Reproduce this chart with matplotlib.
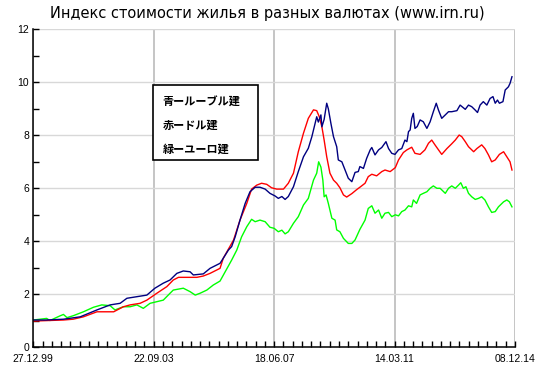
import matplotlib
matplotlib.use("Agg")
import matplotlib.pyplot as plt
import matplotlib.dates as mdates
from matplotlib.patches import Rectangle
from matplotlib.ticker import MultipleLocator, FixedLocator
from datetime import datetime, timedelta
import numpy as np

title = "Индекс стоимости жилья в разных валютах (www.irn.ru)"
tick_labels = ["27.12.99", "22.09.03", "18.06.07", "14.03.11", "08.12.14"]
legend_labels = ["青ールーブル建", "赤ードル建", "緑ーユーロ建"]

blue_t = [1999.99, 2000.38, 2000.92, 2001.44, 2001.96, 2002.37, 2002.68, 2002.89, 2003.20, 2003.51,
          2003.76, 2004.02, 2004.23, 2004.44, 2004.64, 2004.85, 2004.95, 2005.26, 2005.47, 2005.78,
          2005.88, 2006.04, 2006.14, 2006.25, 2006.40, 2006.56, 2006.71, 2006.87, 2007.02, 2007.18,
          2007.33, 2007.49, 2007.59, 2007.70, 2007.80, 2007.90, 2008.06, 2008.21, 2008.37, 2008.52,
          2008.63, 2008.73, 2008.78, 2008.83, 2008.91, 2008.94, 2009.01, 2009.09, 2009.14, 2009.22,
          2009.30, 2009.40, 2009.45, 2009.56, 2009.66, 2009.76, 2009.87, 2009.97, 2010.07, 2010.12,
          2010.23, 2010.33, 2010.44, 2010.49, 2010.59, 2010.70, 2010.80, 2010.93, 2011.01, 2011.11,
          2011.21, 2011.32, 2011.42, 2011.52, 2011.58, 2011.63, 2011.68, 2011.73, 2011.78, 2011.83,
          2011.90, 2011.99, 2012.09, 2012.20, 2012.30, 2012.40, 2012.49, 2012.56, 2012.66, 2012.77,
          2012.87, 2012.97, 2013.13, 2013.23, 2013.39, 2013.49, 2013.59, 2013.70, 2013.77, 2013.85,
          2013.95, 2014.06, 2014.16, 2014.25, 2014.32, 2014.39, 2014.45, 2014.56, 2014.63, 2014.73,
          2014.78, 2014.84]
blue_v = [1.03, 1.03, 1.06, 1.15, 1.41, 1.60, 1.66, 1.85, 1.91, 1.97,
          2.23, 2.42, 2.54, 2.79, 2.88, 2.85, 2.73, 2.77, 2.98, 3.17,
          3.36, 3.67, 3.80, 4.17, 4.80, 5.43, 5.87, 6.04, 6.04, 5.97,
          5.81, 5.71, 5.62, 5.69, 5.58, 5.69, 6.06, 6.63, 7.19, 7.51,
          7.95, 8.45, 8.70, 8.50, 8.77, 8.32, 8.60, 9.21, 9.00, 8.45,
          7.95, 7.57, 7.07, 7.00, 6.69, 6.38, 6.25, 6.60, 6.63, 6.82,
          6.75, 7.13, 7.45, 7.54, 7.26, 7.45, 7.54, 7.76, 7.50, 7.32,
          7.28, 7.45, 7.50, 7.82, 7.76, 8.14, 8.20, 8.64, 8.83, 8.26,
          8.33, 8.58, 8.51, 8.26, 8.51, 8.89, 9.21, 8.95, 8.64, 8.77,
          8.89, 8.89, 8.93, 9.14, 8.98, 9.14, 9.08, 8.95, 8.86, 9.14,
          9.27, 9.14, 9.39, 9.46, 9.21, 9.33, 9.21, 9.27, 9.71, 9.83,
          9.96, 10.21]

red_t = [1999.99, 2000.92, 2001.22, 2001.54, 2001.96, 2002.48, 2002.78, 2002.99, 2003.30, 2003.51,
         2003.82, 2004.13, 2004.33, 2004.49, 2005.06, 2005.26, 2005.47, 2005.78, 2005.88, 2006.20,
         2006.40, 2006.61, 2006.76, 2006.92, 2007.07, 2007.23, 2007.38, 2007.54, 2007.75, 2007.90,
         2008.06, 2008.21, 2008.37, 2008.52, 2008.68, 2008.78, 2008.86, 2008.94, 2009.01, 2009.09,
         2009.19, 2009.30, 2009.40, 2009.50, 2009.61, 2009.71, 2009.87, 2010.02, 2010.12, 2010.28,
         2010.38, 2010.49, 2010.64, 2010.80, 2010.90, 2011.06, 2011.22, 2011.32, 2011.47, 2011.58,
         2011.73, 2011.83, 2011.99, 2012.14, 2012.25, 2012.35, 2012.45, 2012.56, 2012.66, 2012.82,
         2012.97, 2013.08, 2013.20, 2013.28, 2013.39, 2013.49, 2013.65, 2013.75, 2013.90, 2014.00,
         2014.11, 2014.21, 2014.32, 2014.45, 2014.58, 2014.68, 2014.78, 2014.84]
red_v = [0.99, 1.03, 1.06, 1.15, 1.34, 1.34, 1.53, 1.60, 1.66, 1.78,
         2.04, 2.29, 2.54, 2.64, 2.64, 2.69, 2.79, 2.98, 3.36, 4.05,
         4.80, 5.43, 5.97, 6.12, 6.19, 6.15, 6.02, 5.97, 5.97, 6.19,
         6.57, 7.38, 8.08, 8.64, 8.96, 8.93, 8.70, 8.32, 7.82, 7.19,
         6.57, 6.31, 6.19, 6.02, 5.75, 5.67, 5.80, 5.95, 6.04, 6.19,
         6.44, 6.53, 6.47, 6.63, 6.69, 6.63, 6.78, 7.07, 7.35, 7.45,
         7.55, 7.32, 7.28, 7.45, 7.70, 7.82, 7.64, 7.45, 7.28, 7.50,
         7.68, 7.82, 8.01, 7.95, 7.76, 7.57, 7.38, 7.50, 7.64, 7.50,
         7.26, 7.00, 7.07, 7.28, 7.38, 7.19, 7.00, 6.69]

green_t = [1999.99, 2000.40, 2000.50, 2000.82, 2000.92, 2001.03, 2001.22, 2001.54, 2001.85, 2002.11,
           2002.37, 2002.52, 2002.78, 2002.99, 2003.20, 2003.40, 2003.61, 2004.02, 2004.23, 2004.33,
           2004.64, 2004.85, 2005.01, 2005.16, 2005.37, 2005.57, 2005.78, 2006.14, 2006.30, 2006.45,
           2006.61, 2006.76, 2006.87, 2007.02, 2007.18, 2007.33, 2007.46, 2007.59, 2007.70, 2007.80,
           2007.90, 2008.06, 2008.21, 2008.37, 2008.52, 2008.68, 2008.78, 2008.84, 2008.91, 2008.97,
           2009.01, 2009.07, 2009.14, 2009.25, 2009.35, 2009.40, 2009.50, 2009.61, 2009.76, 2009.87,
           2009.97, 2010.12, 2010.28, 2010.38, 2010.49, 2010.59, 2010.70, 2010.80, 2010.90, 2011.01,
           2011.11, 2011.22, 2011.32, 2011.42, 2011.52, 2011.63, 2011.73, 2011.78, 2011.88, 2011.99,
           2012.09, 2012.20, 2012.30, 2012.40, 2012.51, 2012.61, 2012.77, 2012.87, 2012.97, 2013.08,
           2013.18, 2013.25, 2013.33, 2013.41, 2013.49, 2013.59, 2013.70, 2013.80, 2013.90, 2014.00,
           2014.11, 2014.21, 2014.32, 2014.42, 2014.58, 2014.68, 2014.76, 2014.84]
green_v = [1.03, 1.09, 1.01, 1.19, 1.24, 1.12, 1.19, 1.34, 1.51, 1.60,
           1.57, 1.41, 1.53, 1.53, 1.60, 1.47, 1.66, 1.78, 2.04, 2.16,
           2.23, 2.10, 1.97, 2.04, 2.16, 2.35, 2.50, 3.29, 3.67, 4.17,
           4.55, 4.83, 4.74, 4.80, 4.74, 4.53, 4.49, 4.36, 4.42, 4.28,
           4.36, 4.68, 4.93, 5.37, 5.62, 6.31, 6.57, 7.00, 6.80, 6.31,
           5.68, 5.75, 5.43, 4.87, 4.80, 4.43, 4.36, 4.11, 3.92, 3.92,
           4.05, 4.45, 4.80, 5.24, 5.34, 5.06, 5.18, 4.87, 5.06, 5.09,
           4.93, 5.00, 4.96, 5.12, 5.18, 5.34, 5.30, 5.56, 5.43, 5.75,
           5.81, 5.87, 6.00, 6.09, 6.00, 6.00, 5.81, 6.00, 6.09, 6.00,
           6.12, 6.21, 6.00, 6.06, 5.81, 5.68, 5.58, 5.62, 5.68, 5.56,
           5.30, 5.09, 5.12, 5.30, 5.49, 5.56, 5.49, 5.30]


def yr2num(y):
    year = int(y)
    start = datetime(year, 1, 1)
    days = (datetime(year + 1, 1, 1) - start).days
    return mdates.date2num(start + timedelta(days=(y - year) * days))


tick_dates = [mdates.date2num(datetime.strptime(s, "%d.%m.%y")) for s in tick_labels]

fig = plt.figure(figsize=(5.52, 3.72), dpi=100)
ax = fig.add_axes([33.3 / 552, 1 - 347.3 / 372, (515 - 33.3) / 552, (347.3 - 29.3) / 372])

for t, v, c in [(green_t, green_v, "#00ff00"), (red_t, red_v, "#ff0000"), (blue_t, blue_v, "#000080")]:
    ax.plot([yr2num(x) for x in t], v, color=c, lw=1.0, zorder=3)

ax.set_xlim(tick_dates[0], tick_dates[-1])
ax.set_ylim(0, 12)

ax.xaxis.set_major_locator(FixedLocator(tick_dates))
ax.set_xticklabels(tick_labels)
ax.xaxis.set_minor_locator(FixedLocator(list(np.arange(tick_dates[0], tick_dates[-1] + 1, 105))))
ax.yaxis.set_major_locator(MultipleLocator(2))
ax.yaxis.set_minor_locator(MultipleLocator(1))

ax.grid(axis="y", which="major", color="#d8d8d8", lw=1.0, zorder=0)
ax.grid(axis="x", which="major", color="#c0c0c0", lw=1.3, zorder=0)

for s in ["top", "right"]:
    ax.spines[s].set_visible(False)
for s in ["left", "bottom"]:
    ax.spines[s].set_color("black")
    ax.spines[s].set_linewidth(1.1)
    ax.spines[s].set_zorder(4)

ax.tick_params(axis="both", which="both", direction="in", length=4, width=1, color="black",
               labelsize=7.5)
ax.tick_params(axis="x", which="major", pad=4.5)
ax.tick_params(axis="y", which="major", pad=3)
for lab in ax.get_xticklabels() + ax.get_yticklabels():
    lab.set_family("Liberation Sans")
for lab in ax.get_yticklabels():
    lab.set_verticalalignment("center_baseline")

fig.text(0.485, 0.965, title, ha="center", va="center", fontsize=10.5, family="DejaVu Sans")

# legend box (text only)
fig.patches.append(Rectangle((153.3 / 552, 1 - 160 / 372), (257.7 - 153.3) / 552, (160 - 85) / 372,
                             transform=fig.transFigure, facecolor="white", edgecolor="black",
                             lw=1.2, zorder=5))
for lab, yy in zip(legend_labels, [102, 124.7, 149.3]):
    fig.text(162.7 / 552, 1 - yy / 372, lab, ha="left", va="center", fontsize=8,
             fontweight="bold", family=["Noto Sans CJK JP", "DejaVu Sans"], zorder=6)

fig.savefig("out.png", dpi=100, facecolor="white")
